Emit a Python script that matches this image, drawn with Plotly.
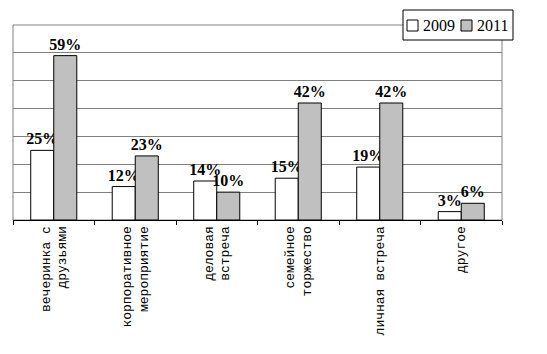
import plotly.graph_objects as go

categories = ["вечеринка с<br>друзьями", "корпоративное<br>мероприятие", "деловая<br>встреча",
              "семейное<br>торжество", "личная встреча", "другое"]
series_names = ["2009", "2011"]
values_2009 = [25, 12, 14, 15, 19, 3]
values_2011 = [59, 23, 10, 42, 42, 6]
series_colors = ["white", "#C0C0C0"]

W, H = 547, 354
L, R, T, B = 13, 45, 25, 134
PW, PH = W - L - R, H - T - B


def px_x(px):
    return (px - L) / PW


def px_y(py):
    return (H - B - py) / PH


fig = go.Figure()
for name, vals, col in zip(series_names, [values_2009, values_2011], series_colors):
    fig.add_trace(go.Bar(
        name=name, x=categories, y=vals,
        marker=dict(color=col, line=dict(color="black", width=1)),
        text=[f"{v}%" for v in vals], textposition="outside",
        textfont=dict(family="Liberation Serif", size=16, color="black", weight="bold"),
        cliponaxis=False, showlegend=False,
    ))

# legend box drawn manually
shapes = [dict(type="rect", xref="paper", yref="paper", x0=0, x1=1, y0=0, y1=1,
               line=dict(color="#808080", width=1), layer="below"),
          dict(type="rect", xref="paper", yref="paper", x0=px_x(403), x1=px_x(513),
               y0=px_y(40), y1=px_y(10), line=dict(color="black", width=1),
               fillcolor="white", layer="above")]
annotations = []
sq_x = [407, 461]
tx_x = [421, 475]
for i, name in enumerate(series_names):
    shapes.append(dict(type="rect", xref="paper", yref="paper", x0=px_x(sq_x[i]), x1=px_x(sq_x[i] + 11),
                       y0=px_y(31), y1=px_y(20), line=dict(color="black", width=1),
                       fillcolor=series_colors[i], layer="above"))
    annotations.append(dict(xref="paper", yref="paper", x=px_x(tx_x[i]), y=px_y(25.5),
                            xanchor="left", yanchor="middle", showarrow=False, text=name,
                            font=dict(family="Liberation Serif", size=16, color="black")))

fig.update_layout(
    width=W, height=H,
    margin=dict(l=L, r=R, t=T, b=B),
    paper_bgcolor="white", plot_bgcolor="white",
    barmode="group", bargap=0.435, bargroupgap=0,
    uniformtext=dict(minsize=16, mode="show"),
    showlegend=False,
    xaxis=dict(
        tickangle=-90, tickfont=dict(family="Liberation Mono", size=13, color="black"),
        showline=True, linecolor="black", linewidth=1, mirror=False,
        ticks="outside", ticklen=4, tickcolor="black", tickson="boundaries",
        showgrid=False,
    ),
    yaxis=dict(
        range=[0, 70], dtick=10, showticklabels=False,
        showgrid=True, gridcolor="#808080", gridwidth=1,
        showline=False, zeroline=False, ticks="",
    ),
    shapes=shapes,
    annotations=annotations,
)

fig.write_html("out.html")
